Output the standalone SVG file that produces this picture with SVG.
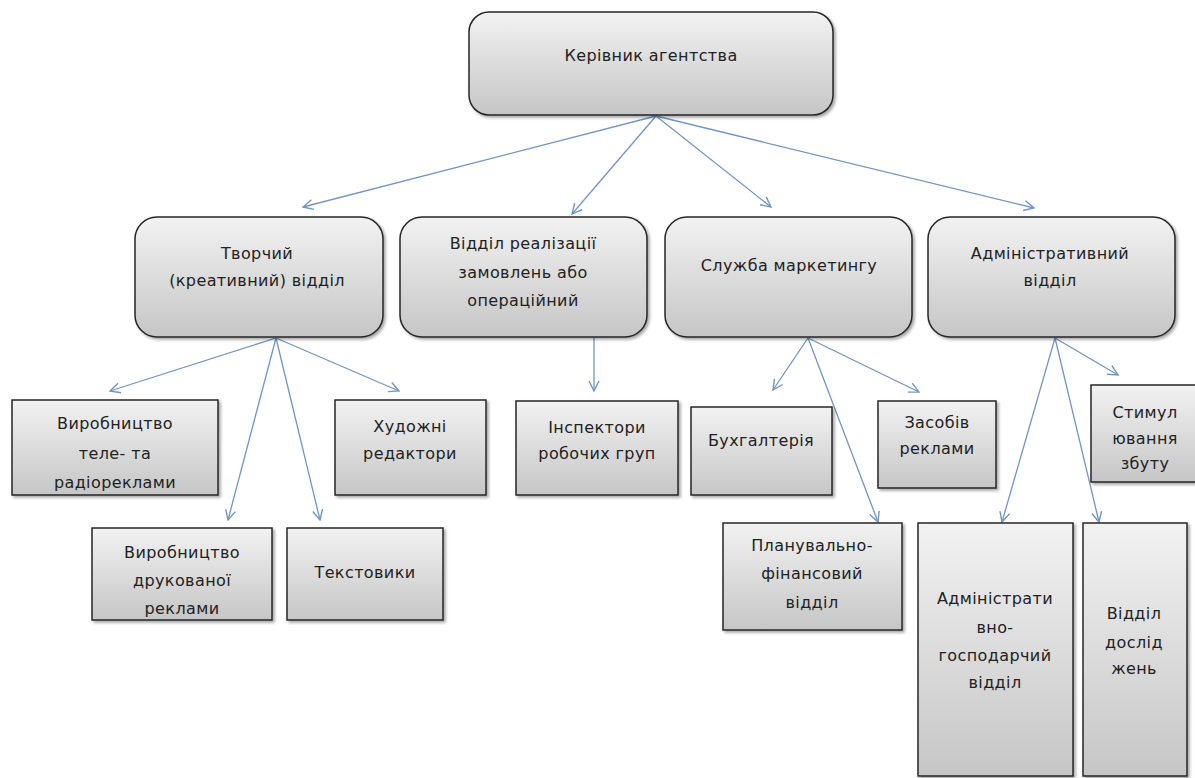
<svg xmlns="http://www.w3.org/2000/svg" width="1195" height="778" viewBox="0 0 1195 778">
<defs>
<linearGradient id="g" x1="0" y1="0" x2="0" y2="1">
<stop offset="0" stop-color="#f2f2f2"/>
<stop offset="1" stop-color="#c6c6c6"/>
</linearGradient>
<filter id="sh" x="-10%" y="-10%" width="130%" height="130%">
<feDropShadow dx="2" dy="2" stdDeviation="1.5" flood-color="#000" flood-opacity="0.35"/>
</filter>
<marker id="ah" viewBox="0 0 12 12" refX="11" refY="6" markerWidth="12" markerHeight="12" markerUnits="userSpaceOnUse" orient="auto">
<path d="M1,1 L11,6 L1,11" fill="none" stroke="#7096c8" stroke-width="1.4"/>
</marker>
</defs>
<style>
.box{fill:url(#g);stroke:#262626;stroke-width:1.5;filter:url(#sh)}
.t{font-family:"DejaVu Sans",sans-serif;font-size:16px;letter-spacing:0.4px;fill:#222;text-anchor:middle}
.c{fill:none;stroke:#7096c8;stroke-width:1.3;marker-end:url(#ah)}
</style>
<rect width="1195" height="778" fill="#fff"/>
<g id="connectors">
<line class="c" x1="656" y1="116" x2="303" y2="207"/>
<line class="c" x1="656" y1="116" x2="572" y2="214"/>
<line class="c" x1="656" y1="116" x2="771" y2="207"/>
<line class="c" x1="656" y1="116" x2="1034" y2="208"/>
<line class="c" x1="276" y1="338" x2="110" y2="391"/>
<line class="c" x1="276" y1="338" x2="228" y2="520"/>
<line class="c" x1="276" y1="338" x2="320" y2="520"/>
<line class="c" x1="276" y1="338" x2="399" y2="391"/>
<line class="c" x1="594" y1="338" x2="594" y2="391"/>
<line class="c" x1="808" y1="338" x2="773" y2="390"/>
<line class="c" x1="808" y1="338" x2="919" y2="392"/>
<line class="c" x1="808" y1="338" x2="878" y2="522"/>
<line class="c" x1="1055" y1="338" x2="1118" y2="375"/>
<line class="c" x1="1055" y1="338" x2="1002" y2="522"/>
<line class="c" x1="1055" y1="338" x2="1099" y2="522"/>
</g>
<g id="n-head">
<rect class="box" x="469" y="12" width="364" height="103" rx="20"/>
<text class="t" x="651" y="61">Керівник агентства</text>
</g>
<g id="n-creative">
<rect class="box" x="135" y="217" width="248" height="120" rx="22"/>
<text class="t" x="257" y="259">Творчий</text>
<text class="t" x="257" y="286">(креативний) відділ</text>
</g>
<g id="n-orders">
<rect class="box" x="400" y="217" width="247" height="120" rx="22"/>
<text class="t" x="523" y="249">Відділ реалізації</text>
<text class="t" x="523" y="278">замовлень або</text>
<text class="t" x="523" y="306">операційний</text>
</g>
<g id="n-marketing">
<rect class="box" x="665" y="217" width="247" height="120" rx="22"/>
<text class="t" x="789" y="271">Служба маркетингу</text>
</g>
<g id="n-admin">
<rect class="box" x="928" y="217" width="247" height="120" rx="22"/>
<text class="t" x="1050" y="259">Адміністративний</text>
<text class="t" x="1050" y="286">відділ</text>
</g>
<g id="n-tv">
<rect class="box" x="12" y="400" width="206" height="95"/>
<text class="t" x="115" y="429">Виробництво</text>
<text class="t" x="115" y="459">теле- та</text>
<text class="t" x="115" y="488">радіореклами</text>
</g>
<g id="n-art">
<rect class="box" x="335" y="400" width="151" height="95"/>
<text class="t" x="410" y="432">Художні</text>
<text class="t" x="410" y="459">редактори</text>
</g>
<g id="n-print">
<rect class="box" x="92" y="528" width="180" height="92"/>
<text class="t" x="182" y="558">Виробництво</text>
<text class="t" x="182" y="586">друкованої</text>
<text class="t" x="182" y="614">реклами</text>
</g>
<g id="n-text">
<rect class="box" x="287" y="528" width="156" height="92"/>
<text class="t" x="365" y="578">Текстовики</text>
</g>
<g id="n-inspect">
<rect class="box" x="516" y="401" width="162" height="94"/>
<text class="t" x="597" y="433">Інспектори</text>
<text class="t" x="597" y="459">робочих груп</text>
</g>
<g id="n-account">
<rect class="box" x="691" y="407" width="141" height="88"/>
<text class="t" x="761" y="446">Бухгалтерія</text>
</g>
<g id="n-media">
<rect class="box" x="878" y="401" width="118" height="87"/>
<text class="t" x="937" y="428">Засобів</text>
<text class="t" x="937" y="454">реклами</text>
</g>
<g id="n-plan">
<rect class="box" x="723" y="523" width="179" height="107"/>
<text class="t" x="812" y="551">Планувально-</text>
<text class="t" x="812" y="579">фінансовий</text>
<text class="t" x="812" y="608">відділ</text>
</g>
<g id="n-stim">
<rect class="box" x="1091" y="385" width="110" height="97"/>
<text class="t" x="1145" y="418">Стимул</text>
<text class="t" x="1145" y="444">ювання</text>
<text class="t" x="1145" y="469">збуту</text>
</g>
<g id="n-adminhh">
<rect class="box" x="918" y="523" width="155" height="253"/>
<text class="t" x="995" y="604">Адміністрати</text>
<text class="t" x="995" y="633">вно-</text>
<text class="t" x="995" y="661">господарчий</text>
<text class="t" x="995" y="688">відділ</text>
</g>
<g id="n-research">
<rect class="box" x="1083" y="523" width="104" height="253"/>
<text class="t" x="1134" y="619">Відділ</text>
<text class="t" x="1134" y="648">дослід</text>
<text class="t" x="1134" y="674">жень</text>
</g>
</svg>
